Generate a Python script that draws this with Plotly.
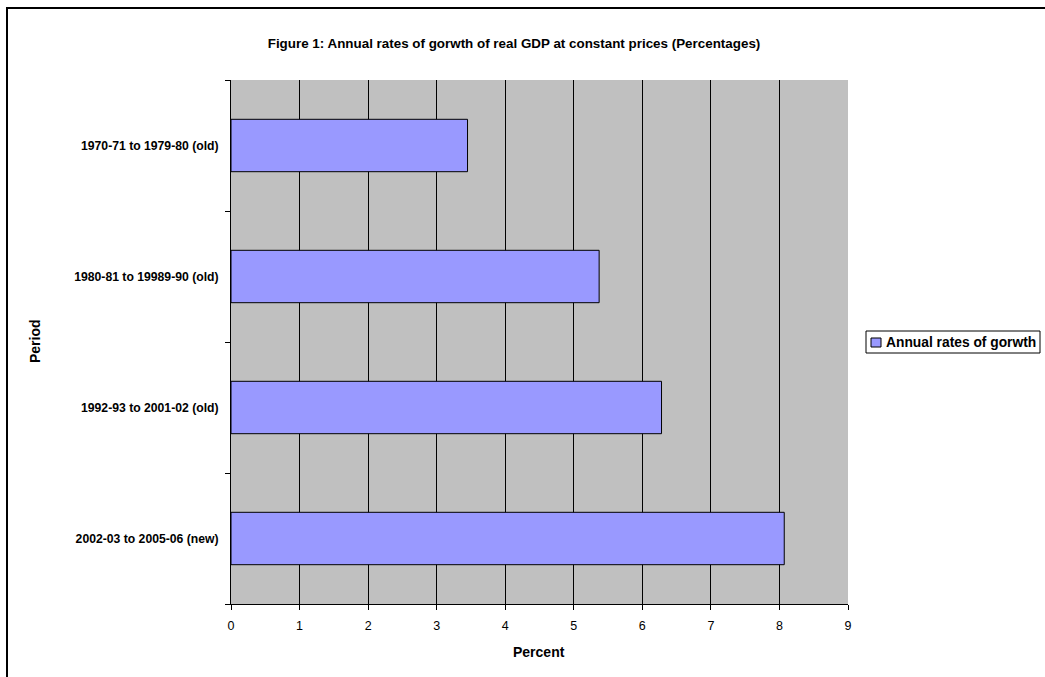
import plotly.graph_objects as go

# Growth periods (top to bottom) and average annual growth rates (%)
periods = [
    "1970-71 to 1979-80 (old)",
    "1980-81 to 19989-90 (old)",
    "1992-93 to 2001-02 (old)",
    "2002-03 to 2005-06 (new)",
]
growth = [3.45, 5.37, 6.28, 8.07]
x_ticks = [0, 1, 2, 3, 4, 5, 6, 7, 8, 9]
series_name = "Annual rates of gorwth"

FONT = "Arial, Liberation Sans, sans-serif"
BAR_COLOR = "#9999FF"

# plot area in pixels: left 231, right 848, top 80, bottom 604
L, R, T, B = 231, 848, 80, 604
W, H = R - L, B - T


def px_x(p):
    return (p - L) / W


def px_y(p):
    return (B - p) / H


fig = go.Figure()
fig.add_trace(go.Bar(
    x=growth,
    y=periods,
    orientation="h",
    name=series_name,
    marker=dict(color=BAR_COLOR, line=dict(color="#000000", width=1)),
    showlegend=False,
))

fig.update_layout(
    width=1045,
    height=677,
    margin=dict(l=L, r=1045 - R, t=T, b=677 - B, autoexpand=False),
    paper_bgcolor="white",
    plot_bgcolor="#C0C0C0",
    bargap=0.6,
    font=dict(family=FONT, size=12, color="black"),
    title=dict(
        text="<b>Figure 1: Annual rates of gorwth of real GDP at constant prices (Percentages)</b>",
        xref="paper", x=px_x(514), xanchor="center",
        yref="container", y=1 - 43 / 677, yanchor="middle",
        font=dict(family=FONT, size=13.4, color="black"),
    ),
    showlegend=False,
    xaxis=dict(
        range=[0, 9],
        tickvals=x_ticks,
        ticks="outside", ticklen=5, tickcolor="black",
        ticklabelstandoff=5,
        showline=True, linecolor="black", linewidth=1,
        showgrid=True, gridcolor="black", gridwidth=1,
        zeroline=False,
        tickfont=dict(family=FONT, size=12.5, color="black"),
    ),
    yaxis=dict(
        categoryorder="array",
        categoryarray=periods[::-1],
        ticks="outside", ticklen=5, tickcolor="black",
        tickson="boundaries",
        ticklabelstandoff=9,
        showline=True, linecolor="black", linewidth=1,
        showgrid=False, zeroline=False,
        tickfont=dict(family=FONT, size=12.2, color="black", weight="bold"),
    ),
    annotations=[
        dict(text="<b>Percent</b>", xref="paper", yref="paper",
             x=px_x(539), y=px_y(652), xanchor="center", yanchor="middle",
             showarrow=False, font=dict(family=FONT, size=14, color="black")),
        dict(text="<b>Period</b>", xref="paper", yref="paper",
             x=px_x(35), y=px_y(341), xanchor="center", yanchor="middle",
             textangle=-90,
             showarrow=False, font=dict(family=FONT, size=14, color="black")),
        # legend label
        dict(text="<b>" + series_name + "</b>", xref="paper", yref="paper",
             x=px_x(884), y=px_y(342), xanchor="left", yanchor="middle",
             showarrow=False, font=dict(family=FONT, size=13.8, color="black")),
    ],
    shapes=[
        # chart frame
        dict(type="rect", xref="paper", yref="paper",
             x0=px_x(7), x1=2.0, y0=-1.0, y1=px_y(8),
             line=dict(color="black", width=2), fillcolor="rgba(0,0,0,0)",
             layer="above"),
        # legend box
        dict(type="rect", xref="paper", yref="paper",
             x0=px_x(866), x1=px_x(1040), y0=px_y(353), y1=px_y(331),
             line=dict(color="black", width=1), fillcolor="white"),
        # legend swatch
        dict(type="rect", xref="paper", yref="paper",
             x0=px_x(871), x1=px_x(881), y0=px_y(347), y1=px_y(338),
             line=dict(color="black", width=1), fillcolor=BAR_COLOR),
    ],
)

fig.write_html("out.html")
